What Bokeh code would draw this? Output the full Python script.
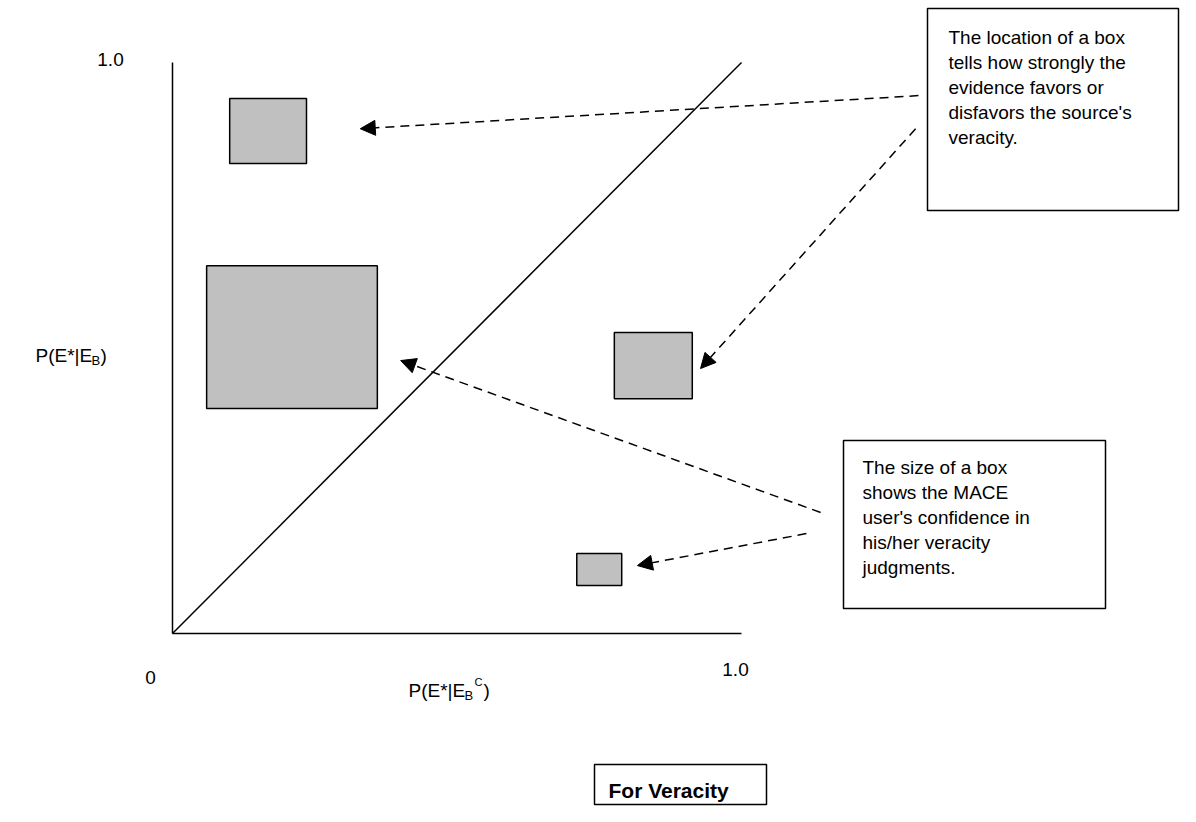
from bokeh.plotting import figure
from bokeh.models import Range1d, ColumnDataSource, Arrow, NormalHead
from bokeh.core.properties import value
from bokeh.embed import file_html
from bokeh.resources import INLINE

# ---- data (unit square: P(E*|E_B^C) on x, P(E*|E_B) on y) ----
box_x = [0.168, 0.210, 0.845, 0.750]
box_y = [0.880, 0.519, 0.469, 0.112]
box_w = [0.135, 0.300, 0.137, 0.079]
box_h = [0.114, 0.250, 0.116, 0.056]

diag_x = [0.0, 1.0]
diag_y = [0.0, 1.0]

tick_labels = ["0", "1.0", "1.0"]

note_location = ["The location of a box", "tells how strongly the",
                 "evidence favors or", "disfavors the source's", "veracity."]
note_size = ["The size of a box", "shows the MACE",
             "user's confidence in", "his/her veracity", "judgments."]
title_text = "For Veracity"

# arrows: start (in note area) -> end (next to a box)
arr_x0 = [1.311, 1.306, 1.139, 1.114]
arr_y0 = [0.942, 0.884, 0.212, 0.175]
arr_x1 = [0.330, 0.928, 0.401, 0.817]
arr_y1 = [0.884, 0.464, 0.478, 0.119]

# ---- page geometry: origin at px (172,633), 1.0 at 569 px / 571 px ----
SX, SY = 569.0, 571.0
OX, OY = 172.0, 633.0
W, H = 1180, 806


def dx(px):
    return (px - OX) / SX


def dy(py):
    return (OY - py) / SY


p = figure(width=W, height=H, output_backend="svg", toolbar_location=None,
           x_range=Range1d(dx(0), dx(W)), y_range=Range1d(dy(H), dy(0)),
           x_axis_type=None, y_axis_type=None, min_border=0,
           outline_line_color=None, background_fill_color="white",
           border_fill_color="white")
p.xgrid.visible = False
p.ygrid.visible = False

FONT = value("Liberation Sans")
FS = "19px"

# axes
p.line([0, 0], [0, 1], line_color="black", line_width=1.5)
p.line([0, 1], [0, 0], line_color="black", line_width=1.5)
# diagonal
p.line(diag_x, diag_y, line_color="black", line_width=1.5)

# boxes
p.rect(x=box_x, y=box_y, width=box_w, height=box_h, fill_color="#c0c0c0",
       line_color="black", line_width=1.5)

# tick labels
p.text(x=[dx(150), dx(735), dx(110)], y=[dy(677), dy(669), dy(59)],
       text=tick_labels, text_font=FONT, text_font_size=FS,
       text_align="center", text_baseline="middle", text_color="black")

# y label P(E*|E_B)
ylx, yly = dx(35), dy(355)
p.text(x=[ylx], y=[yly], text=["P(E*|E"], text_font=FONT, text_font_size=FS,
       text_baseline="middle", text_color="black")
p.text(x=[ylx], y=[yly], text=["B"], text_font=FONT, text_font_size="13px",
       text_baseline="middle", x_offset=56, y_offset=5, text_color="black")
p.text(x=[ylx], y=[yly], text=[")"], text_font=FONT, text_font_size=FS,
       text_baseline="middle", x_offset=65, text_color="black")

# x label P(E*|E_B^C)
xlx, xly = dx(408), dy(690)
p.text(x=[xlx], y=[xly], text=["P(E*|E"], text_font=FONT, text_font_size=FS,
       text_baseline="middle", text_color="black")
p.text(x=[xlx], y=[xly], text=["B"], text_font=FONT, text_font_size="13px",
       text_baseline="middle", x_offset=56, y_offset=5, text_color="black")
p.text(x=[xlx], y=[xly], text=["C"], text_font=FONT, text_font_size="11px",
       text_baseline="middle", x_offset=66, y_offset=-9, text_color="black")
p.text(x=[xlx], y=[xly], text=[")"], text_font=FONT, text_font_size=FS,
       text_baseline="middle", x_offset=75, text_color="black")

# note boxes
p.quad(left=[dx(927), dx(843)], right=[dx(1178), dx(1105)],
       top=[dy(8), dy(440)], bottom=[dy(210), dy(608)],
       fill_color="white", line_color="black", line_width=1.5)
p.text(x=[dx(948)] * 5, y=[dy(37 + 25 * i) for i in range(5)], text=note_location,
       text_font=FONT, text_font_size=FS, text_baseline="middle", text_color="black")
p.text(x=[dx(862)] * 5, y=[dy(467 + 25 * i) for i in range(5)], text=note_size,
       text_font=FONT, text_font_size=FS, text_baseline="middle", text_color="black")

# title box
p.quad(left=[dx(594)], right=[dx(766)], top=[dy(764)], bottom=[dy(804)],
       fill_color="white", line_color="black", line_width=1.5)
p.text(x=[dx(608)], y=[dy(790)], text=[title_text], text_font=FONT,
       text_font_size="21px", text_font_style="bold", text_baseline="middle",
       text_color="black")

# arrows
src = ColumnDataSource(dict(x0=arr_x0, y0=arr_y0, x1=arr_x1, y1=arr_y1))
p.add_layout(Arrow(end=NormalHead(size=15, fill_color="black", line_color="black"),
                   x_start="x0", y_start="y0", x_end="x1", y_end="y1",
                   source=src, line_color="black", line_width=1.5,
                   line_dash="9 6"))

open("out.html", "w").write(file_html(p, INLINE))
